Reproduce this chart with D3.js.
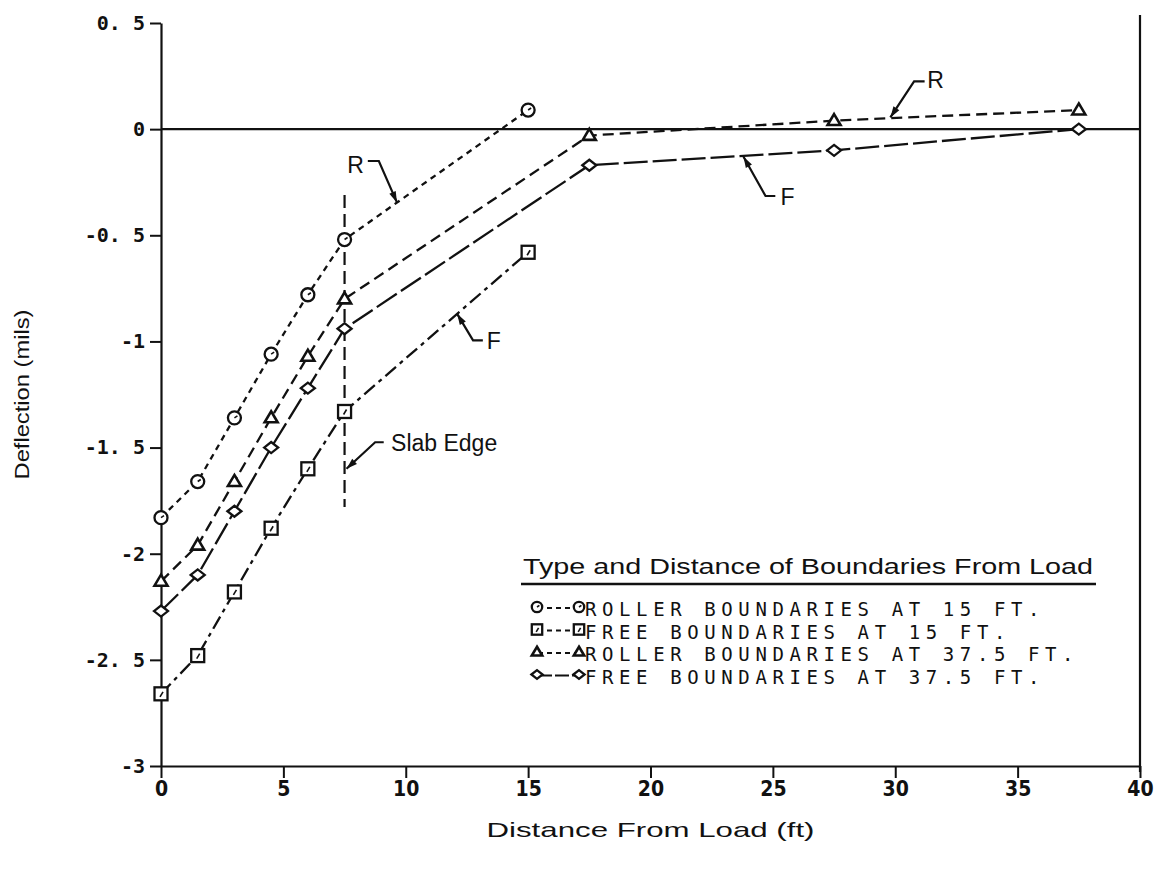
<!DOCTYPE html>
<html>
<head>
<meta charset="utf-8">
<script src="https://cdn.jsdelivr.net/npm/d3@7/dist/d3.min.js"></script>
<style>
  html, body { margin: 0; padding: 0; background: #fff; }
  svg { display: block; }
</style>
</head>
<body>
<svg id="chart" width="1157" height="872"></svg>
<script>
// Distance from load (ft) at which deflections were computed
const distNear = [0, 1.5, 3, 4.5, 6, 7.5, 15];
const distFar  = [0, 1.5, 3, 4.5, 6, 7.5, 17.5, 27.5, 37.5];

// Deflection (mils) for each boundary case
const roller15  = [-1.83, -1.66, -1.36, -1.06, -0.78, -0.52, 0.09];
const free15    = [-2.66, -2.48, -2.18, -1.88, -1.60, -1.33, -0.58];
const roller375 = [-2.13, -1.96, -1.66, -1.36, -1.07, -0.80, -0.03, 0.04, 0.09];
const free375   = [-2.27, -2.10, -1.80, -1.50, -1.22, -0.94, -0.17, -0.10, 0.00];

const seriesNames = [
  "ROLLER BOUNDARIES AT 15 FT.",
  "FREE BOUNDARIES AT 15 FT.",
  "ROLLER BOUNDARIES AT 37.5 FT.",
  "FREE BOUNDARIES AT 37.5 FT."
];
const legendTitle = "Type and Distance of Boundaries From Load";

// Axis ticks
const xTickValues = [0, 5, 10, 15, 20, 25, 30, 35, 40];
const xTickLabels = ["0", "5", "10", "15", "20", "25", "30", "35", "40"];
const yTickValues = [-3, -2.5, -2, -1.5, -1, -0.5, 0, 0.5];
const yTickLabels = ["-3", "-2. 5", "-2", "-1. 5", "-1", "-0. 5", "0", "0. 5"];

// Slab edge location and callouts (data units)
const slabEdgeX = 7.5;
const slabEdgeSpan = [-0.31, -1.78];
const callouts = [
  { label: "R", text: [7.95, -0.17], path: [[8.45, -0.15], [8.9, -0.15], [9.64, -0.345]] },
  { label: "R", text: [31.65, 0.23], path: [[31.2, 0.225], [30.77, 0.225], [29.8, 0.055]] },
  { label: "F", text: [25.6, -0.32], path: [[25.1, -0.315], [24.7, -0.315], [23.8, -0.13]] },
  { label: "F", text: [13.6, -1.0], path: [[13.15, -0.995], [12.75, -0.995], [12.1, -0.87]] },
  { label: "Slab Edge", text: [9.4, -1.48], path: [[9.1, -1.475], [8.75, -1.475], [7.58, -1.6]] }
];

const svg = d3.select("#chart");
const ink = "#111";

const x = d3.scaleLinear().domain([0, 40]).range([161, 1140]);
const y = d3.scaleLinear().domain([-3, 0.5]).range([766, 23]);

const series = [
  { xs: distNear, ys: roller15,  marker: "circle",   dash: "6,5" },
  { xs: distNear, ys: free15,    marker: "square",   dash: "14,5,4,5" },
  { xs: distFar,  ys: roller375, marker: "triangle", dash: "11,6" },
  { xs: distFar,  ys: free375,   marker: "diamond",  dash: "24,5" }
];

// ---- axes ----
const yAxis = d3.axisLeft(y).tickValues(yTickValues)
  .tickFormat((d, i) => yTickLabels[i]).tickSize(11).tickSizeOuter(0).tickPadding(5);
const gy = svg.append("g").attr("transform", `translate(${x(0)},0)`).call(yAxis);
gy.select(".domain").attr("stroke", ink).attr("stroke-width", 2.2);
gy.selectAll(".tick line").attr("stroke", ink).attr("stroke-width", 2);
gy.selectAll(".tick text")
  .attr("fill", ink)
  .style("font-family", "'DejaVu Sans Mono', monospace")
  .style("font-weight", "bold")
  .style("font-size", "20px");

const xAxis = d3.axisBottom(x).tickValues(xTickValues)
  .tickFormat((d, i) => xTickLabels[i]).tickSize(12).tickSizeOuter(0).tickPadding(3);
const gx = svg.append("g").attr("transform", `translate(0,${y(-3)})`).call(xAxis);
gx.select(".domain").attr("stroke", ink).attr("stroke-width", 2.2);
gx.selectAll(".tick line").attr("stroke", ink).attr("stroke-width", 2);
gx.selectAll(".tick text")
  .attr("fill", ink)
  .style("font-family", "'Liberation Sans Narrow', 'DejaVu Sans Condensed', 'Roboto', sans-serif")
  .style("font-stretch", "condensed")
  .style("font-weight", "bold")
  .style("font-size", "21px");

// right frame edge
svg.append("line")
  .attr("x1", x(40)).attr("x2", x(40))
  .attr("y1", y(0.5) - 8).attr("y2", y(-3) + 6)
  .attr("stroke", ink).attr("stroke-width", 2.2);

// zero reference line
svg.append("line")
  .attr("x1", x(0)).attr("x2", x(40))
  .attr("y1", y(0)).attr("y2", y(0))
  .attr("stroke", ink).attr("stroke-width", 2.2);

// axis titles
svg.append("text")
  .attr("x", (x(0) + x(40)) / 2).attr("y", 837)
  .attr("text-anchor", "middle")
  .attr("textLength", 328).attr("lengthAdjust", "spacingAndGlyphs")
  .style("font-family", "'Liberation Sans', Arial, sans-serif")
  .style("font-size", "21px").attr("fill", ink)
  .text("Distance From Load (ft)");

svg.append("text")
  .attr("transform", `translate(29,${(y(0.5) + y(-3)) / 2}) rotate(-90)`)
  .attr("text-anchor", "middle")
  .attr("textLength", 170).attr("lengthAdjust", "spacingAndGlyphs")
  .style("font-family", "'Liberation Sans', Arial, sans-serif")
  .style("font-size", "21px").attr("fill", ink)
  .text("Deflection (mils)");

// ---- markers ----
function drawMarker(g, type, cx, cy, s) {
  const k = s || 1;
  if (type === "circle") {
    g.append("circle").attr("cx", cx).attr("cy", cy).attr("r", 6.5 * k)
      .attr("fill", "#fff").attr("stroke", ink).attr("stroke-width", 2.3);
    g.append("line").attr("x1", cx).attr("y1", cy).attr("x2", cx + 3 * k).attr("y2", cy - 2 * k)
      .attr("stroke", ink).attr("stroke-width", 1.6);
  } else if (type === "square") {
    g.append("rect").attr("x", cx - 6.5 * k).attr("y", cy - 6.5 * k)
      .attr("width", 13 * k).attr("height", 13 * k)
      .attr("fill", "#fff").attr("stroke", ink).attr("stroke-width", 2.3);
    g.append("line").attr("x1", cx - 1 * k).attr("y1", cy + 3 * k).attr("x2", cx + 2 * k).attr("y2", cy - 2 * k)
      .attr("stroke", ink).attr("stroke-width", 1.6);
  } else if (type === "triangle") {
    const h = 11 * k, w = 6.5 * k;
    g.append("path")
      .attr("d", `M${cx},${cy - h * 0.6}L${cx + w},${cy + h * 0.4}L${cx - w},${cy + h * 0.4}Z`)
      .attr("fill", "#fff").attr("stroke", ink).attr("stroke-width", 2.6);
  } else if (type === "diamond") {
    const w = 7 * k, h = 5.5 * k;
    g.append("path")
      .attr("d", `M${cx - w},${cy}L${cx},${cy - h}L${cx + w},${cy}L${cx},${cy + h}Z`)
      .attr("fill", "#fff").attr("stroke", ink).attr("stroke-width", 2.3);
  }
}

// ---- slab edge ----
svg.append("line")
  .attr("x1", x(slabEdgeX)).attr("x2", x(slabEdgeX))
  .attr("y1", y(slabEdgeSpan[0])).attr("y2", y(slabEdgeSpan[1]))
  .attr("stroke", ink).attr("stroke-width", 2.2).attr("stroke-dasharray", "13,6");

// ---- series lines and points ----
const line = d3.line().x(d => x(d[0])).y(d => y(d[1]));
series.forEach(s => {
  const pts = s.xs.map((d, i) => [d, s.ys[i]]);
  svg.append("path").datum(pts)
    .attr("d", line)
    .attr("fill", "none").attr("stroke", ink).attr("stroke-width", 2.3)
    .attr("stroke-dasharray", s.dash);
});
series.forEach(s => {
  const g = svg.append("g");
  s.xs.forEach((d, i) => drawMarker(g, s.marker, x(d), y(s.ys[i]), 1));
});

// ---- callouts ----
callouts.forEach(c => {
  const pts = c.path.map(p => [x(p[0]), y(p[1])]);
  svg.append("path")
    .attr("d", d3.line()(pts))
    .attr("fill", "none").attr("stroke", ink).attr("stroke-width", 2.2);
  const a = pts[pts.length - 2], b = pts[pts.length - 1];
  const ang = Math.atan2(b[1] - a[1], b[0] - a[0]);
  const L = 11, W = 3.5;
  const bx = b[0] - L * Math.cos(ang), by = b[1] - L * Math.sin(ang);
  svg.append("path")
    .attr("d", `M${b[0]},${b[1]}L${bx - W * Math.sin(ang)},${by + W * Math.cos(ang)}L${bx + W * Math.sin(ang)},${by - W * Math.cos(ang)}Z`)
    .attr("fill", ink);
  svg.append("text")
    .attr("x", x(c.text[0])).attr("y", y(c.text[1]))
    .attr("dominant-baseline", "central")
    .attr("text-anchor", c.label.length > 1 ? "start" : "middle")
    .style("font-family", "'Liberation Sans', Arial, sans-serif")
    .style("font-size", "23px").attr("fill", ink)
    .text(c.label);
});

// ---- legend ----
const lg = svg.append("g");
lg.append("text")
  .attr("x", 523).attr("y", 566)
  .attr("dominant-baseline", "central")
  .attr("textLength", 570).attr("lengthAdjust", "spacingAndGlyphs")
  .style("font-family", "'Liberation Sans', Arial, sans-serif")
  .style("font-size", "22px").attr("fill", ink)
  .text(legendTitle);
lg.append("line")
  .attr("x1", 521).attr("x2", 1096).attr("y1", 584).attr("y2", 584)
  .attr("stroke", ink).attr("stroke-width", 2.4);

const legendRows = [608, 630.5, 653, 675.5];
series.forEach((s, i) => {
  const yy = legendRows[i];
  lg.append("line").attr("x1", 538).attr("x2", 578).attr("y1", yy).attr("y2", yy)
    .attr("stroke", ink).attr("stroke-width", 2).attr("stroke-dasharray", i === 3 ? "14,3" : "5,4");
  drawMarker(lg, s.marker, 537, yy - 1, 0.8);
  drawMarker(lg, s.marker, 579, yy - 1, 0.8);
  lg.append("text")
    .attr("x", 585).attr("y", yy + 1)
    .attr("dominant-baseline", "central")
    .style("font-family", "'DejaVu Sans Mono', monospace")
    .style("font-size", "19px")
    .style("letter-spacing", "5.6px")
    .attr("fill", ink)
    .text(seriesNames[i]);
});
</script>
</body>
</html>
